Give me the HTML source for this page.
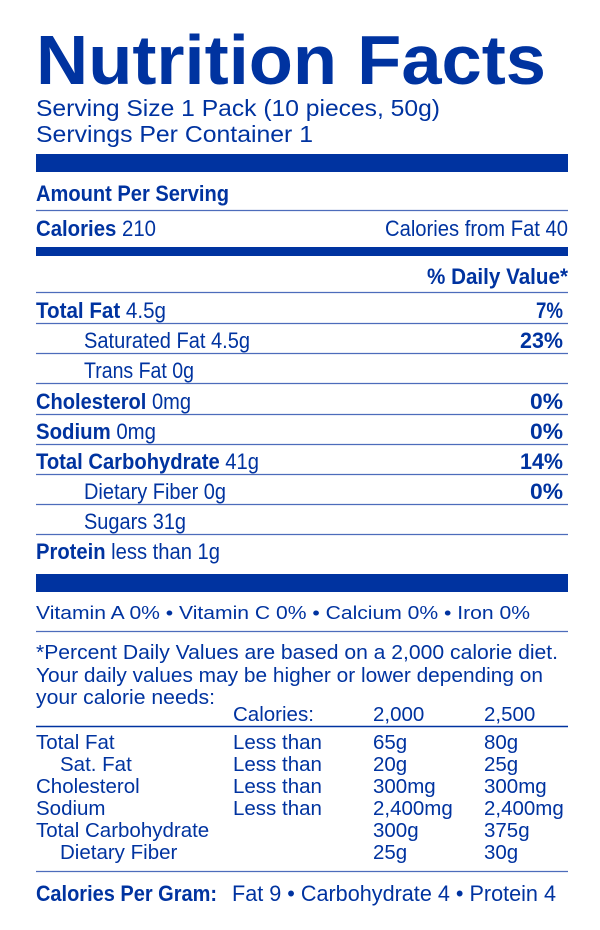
<!DOCTYPE html>
<html><head><meta charset="utf-8"><style>
html,body{margin:0;padding:0;background:#fff;}
svg{display:block}
text{font-family:"Liberation Sans",Arial,sans-serif;fill:#0033a0}
.b{font-weight:bold}
</style></head><body>
<svg width="600" height="930" viewBox="0 0 600 930" xmlns="http://www.w3.org/2000/svg">
<g fill="#0033a0">
<rect x="36" y="154" width="532" height="18"/>
<rect x="36" y="247" width="532" height="9"/>
<rect x="36" y="574" width="532" height="18"/>
</g>
<g stroke="#4d6cbb" stroke-width="1.3">
<line x1="36" x2="568" y1="210.5" y2="210.5"/>
<line x1="36" x2="568" y1="292.5" y2="292.5"/>
<line x1="36" x2="568" y1="323.5" y2="323.5"/>
<line x1="36" x2="568" y1="353.5" y2="353.5"/>
<line x1="36" x2="568" y1="383.5" y2="383.5"/>
<line x1="36" x2="568" y1="414.5" y2="414.5"/>
<line x1="36" x2="568" y1="444.5" y2="444.5"/>
<line x1="36" x2="568" y1="474.5" y2="474.5"/>
<line x1="36" x2="568" y1="504.5" y2="504.5"/>
<line x1="36" x2="568" y1="534.5" y2="534.5"/>
<line x1="36" x2="568" y1="631.5" y2="631.5"/>
<line x1="36" x2="568" y1="871.5" y2="871.5"/>
</g>
<line x1="36" x2="568" y1="726.5" y2="726.5" stroke="#0033a0" stroke-width="1.5"/>

<text class="b" x="36" y="84" font-size="70" textLength="510" lengthAdjust="spacingAndGlyphs">Nutrition Facts</text>
<text x="36" y="116" font-size="23" textLength="404" lengthAdjust="spacingAndGlyphs">Serving Size 1 Pack  (10 pieces, 50g)</text>
<text x="36" y="142" font-size="23" textLength="277" lengthAdjust="spacingAndGlyphs">Servings Per Container  1</text>

<text class="b" x="36" y="201" font-size="22" textLength="193" lengthAdjust="spacingAndGlyphs">Amount Per Serving</text>
<text x="36" y="236" font-size="22" textLength="120" lengthAdjust="spacingAndGlyphs"><tspan class="b">Calories</tspan> 210</text>
<text x="568" y="236" font-size="22" text-anchor="end" textLength="183" lengthAdjust="spacingAndGlyphs">Calories from Fat 40</text>
<text class="b" x="568" y="284" font-size="22" text-anchor="end" textLength="141" lengthAdjust="spacingAndGlyphs">% Daily Value*</text>

<g font-size="22">
<text x="36" y="318" textLength="130" lengthAdjust="spacingAndGlyphs"><tspan class="b">Total Fat</tspan> 4.5g</text>
<text class="b" x="563" y="318" text-anchor="end" textLength="27" lengthAdjust="spacingAndGlyphs">7%</text>
<text x="84" y="348" textLength="166" lengthAdjust="spacingAndGlyphs">Saturated Fat 4.5g</text>
<text class="b" x="563" y="348" text-anchor="end" textLength="43" lengthAdjust="spacingAndGlyphs">23%</text>
<text x="84" y="378" textLength="110" lengthAdjust="spacingAndGlyphs">Trans Fat 0g</text>
<text x="36" y="409" textLength="155" lengthAdjust="spacingAndGlyphs"><tspan class="b">Cholesterol</tspan> 0mg</text>
<text class="b" x="563" y="409" text-anchor="end" textLength="33" lengthAdjust="spacingAndGlyphs">0%</text>
<text x="36" y="439" textLength="120" lengthAdjust="spacingAndGlyphs"><tspan class="b">Sodium</tspan> 0mg</text>
<text class="b" x="563" y="439" text-anchor="end" textLength="33" lengthAdjust="spacingAndGlyphs">0%</text>
<text x="36" y="469" textLength="223" lengthAdjust="spacingAndGlyphs"><tspan class="b">Total Carbohydrate</tspan> 41g</text>
<text class="b" x="563" y="469" text-anchor="end" textLength="43" lengthAdjust="spacingAndGlyphs">14%</text>
<text x="84" y="499" textLength="142" lengthAdjust="spacingAndGlyphs">Dietary Fiber 0g</text>
<text class="b" x="563" y="499" text-anchor="end" textLength="33" lengthAdjust="spacingAndGlyphs">0%</text>
<text x="84" y="529" textLength="102" lengthAdjust="spacingAndGlyphs">Sugars 31g</text>
<text x="36" y="559" textLength="184" lengthAdjust="spacingAndGlyphs"><tspan class="b">Protein</tspan> less than 1g</text>
</g>

<text x="36" y="619" font-size="18" textLength="494" lengthAdjust="spacingAndGlyphs">Vitamin A 0%  •  Vitamin C 0%  •  Calcium 0%  •  Iron 0%</text>

<g font-size="20.5">
<text x="36" y="659" textLength="522" lengthAdjust="spacingAndGlyphs">*Percent Daily Values are based on a 2,000 calorie diet.</text>
<text x="36" y="682" textLength="507" lengthAdjust="spacingAndGlyphs">Your daily values may be higher or lower depending on</text>
<text x="36" y="704" textLength="179" lengthAdjust="spacingAndGlyphs">your calorie needs:</text>
<text x="233" y="721">Calories:</text><text x="373" y="721">2,000</text><text x="484" y="721">2,500</text>
<text x="36" y="749">Total Fat</text><text x="233" y="749">Less than</text><text x="373" y="749">65g</text><text x="484" y="749">80g</text>
<text x="60" y="771">Sat. Fat</text><text x="233" y="771">Less than</text><text x="373" y="771">20g</text><text x="484" y="771">25g</text>
<text x="36" y="793">Cholesterol</text><text x="233" y="793">Less than</text><text x="373" y="793">300mg</text><text x="484" y="793">300mg</text>
<text x="36" y="815">Sodium</text><text x="233" y="815">Less than</text><text x="373" y="815">2,400mg</text><text x="484" y="815">2,400mg</text>
<text x="36" y="837">Total Carbohydrate</text><text x="373" y="837">300g</text><text x="484" y="837">375g</text>
<text x="60" y="859">Dietary Fiber</text><text x="373" y="859">25g</text><text x="484" y="859">30g</text>
</g>

<text x="36" y="901" font-size="22" textLength="181" lengthAdjust="spacingAndGlyphs" class="b">Calories Per Gram:</text>
<text x="232" y="901" font-size="22" textLength="324" lengthAdjust="spacingAndGlyphs">Fat  9 • Carbohydrate 4 • Protein 4</text>
</svg>
</body></html>
